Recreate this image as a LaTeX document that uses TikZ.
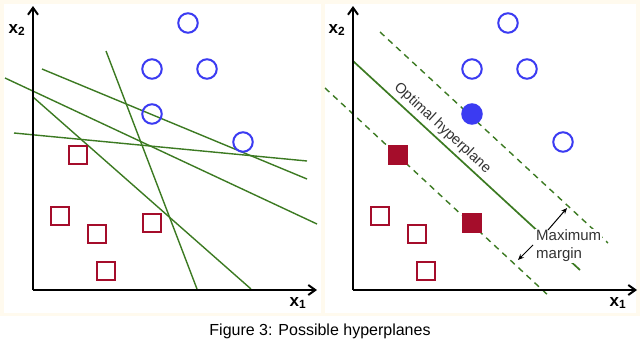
\documentclass[tikz,border=0pt]{standalone}
\usepackage{fontspec}
\setmainfont{Liberation Sans}
\usetikzlibrary{arrows.meta}
\definecolor{ptblue}{HTML}{3B3BF2}
\definecolor{ptred}{HTML}{A50D2B}
\definecolor{lgreen}{HTML}{3C7A22}
\definecolor{cream}{HTML}{FFFAEE}
\tikzset{
  bc/.style={circle,draw=ptblue,line width=2pt,minimum size=19.5pt,inner sep=0pt},
  bcf/.style={bc,fill=ptblue},
  rs/.style={rectangle,draw=ptred,line width=2.3pt,minimum size=18.5pt,inner sep=0pt},
  rsf/.style={rs,fill=ptred},
  axisline/.style={line width=2.2pt,-{Straight Barb[length=7pt,width=10pt,line width=2pt]}},
  hyp/.style={draw=lgreen,line width=1.4pt},
  margline/.style={draw=lgreen,line width=1.4pt,dash pattern=on 6pt off 5pt},
  axlabel/.style={font=\fontsize{17}{17}\selectfont\bfseries,inner sep=0pt},
  txt/.style={font=\fontsize{15}{18}\selectfont,text=black!80}
}
\begin{document}
\begin{tikzpicture}[x=1pt,y=-1pt]
\useasboundingbox (0,0) rectangle (640,343);
\fill[white] (0,0) rectangle (640,343);
\fill[cream] (0,0) rectangle (640,316);
\fill[white] (4,4) rectangle (321,313);
\fill[white] (325,4) rectangle (636,313);

% ---------- left panel ----------
\coordinate (lo) at (33,290);
\coordinate (ly) at (33,6);
\coordinate (lx) at (317,290);
\draw[hyp] (5,78) -- (317,224);
\draw[hyp] (42,69) -- (307,179);
\draw[hyp] (14,133) -- (307,161);
\draw[hyp] (106,51) -- (197,289);
\draw[hyp] (33,97) -- (251,289);
\draw[axisline] (lo) -- (ly);
\draw[axisline] (lo) -- (lx);
\node[axlabel] (lx2) at (17,30) {x\textsubscript{2}};
\node[axlabel] (lx1) at (298,303) {x\textsubscript{1}};
\node[bc] (lc1) at (188,23) {};
\node[bc] (lc2) at (152,69) {};
\node[bc] (lc3) at (207,69) {};
\node[bc] (lc4) at (152,114) {};
\node[bc] (lc5) at (243,142) {};
\node[rs] (ls1) at (78,155) {};
\node[rs] (ls2) at (60,216) {};
\node[rs] (ls3) at (97,234) {};
\node[rs] (ls4) at (152,223) {};
\node[rs] (ls5) at (106,271) {};

% ---------- right panel ----------
\coordinate (ro) at (353,290);
\coordinate (ry) at (353,6);
\coordinate (rx) at (637,290);
\coordinate (h1) at (353,61);
\coordinate (h2) at (580,270);
\coordinate (u1) at (380,32);
\coordinate (u2) at (608,243);
\coordinate (d1) at (325,88);
\coordinate (d2) at (550,297);
\draw[margline] (u1) -- (u2);
\draw[margline] (d1) -- (d2);
\draw[hyp,line width=1.7pt] (h1) -- (h2);
\node[txt,fill=white,inner sep=1pt,align=left,anchor=west] (mm) at (535,246) {Maximum\\margin};
\coordinate (a1s) at (548,230);
\coordinate (a1e) at (567,208);
\coordinate (a2s) at (533,245);
\coordinate (a2e) at (518,260);
\draw[line width=1pt,-{Stealth[length=6pt,width=5pt]}] (a1s) -- (a1e);
\draw[line width=1pt,-{Stealth[length=6pt,width=5pt]}] (a2s) -- (a2e);
\node[txt,font=\fontsize{14.5}{18}\selectfont,rotate=-42.7,anchor=south,inner sep=1pt] (oh) at (437,134) {Optimal hyperplane};
\draw[axisline] (ro) -- (ry);
\draw[axisline] (ro) -- (rx);
\node[axlabel] (rx2) at (337,30) {x\textsubscript{2}};
\node[axlabel] (rx1) at (618,303) {x\textsubscript{1}};
\node[bc] (rc1) at (508,23) {};
\node[bc] (rc2) at (472,69) {};
\node[bc] (rc3) at (527,69) {};
\node[bcf] (rc4) at (472,114) {};
\node[bc] (rc5) at (563,142) {};
\node[rsf] (rs1) at (398,155) {};
\node[rs] (rs2) at (380,216) {};
\node[rs] (rs3) at (417,234) {};
\node[rsf] (rs4) at (472,223) {};
\node[rs] (rs5) at (426,271) {};

\node[font=\fontsize{16}{18}\selectfont] (cap) at (320,331) {Figure 3: Possible hyperplanes};
\end{tikzpicture}
\end{document}
